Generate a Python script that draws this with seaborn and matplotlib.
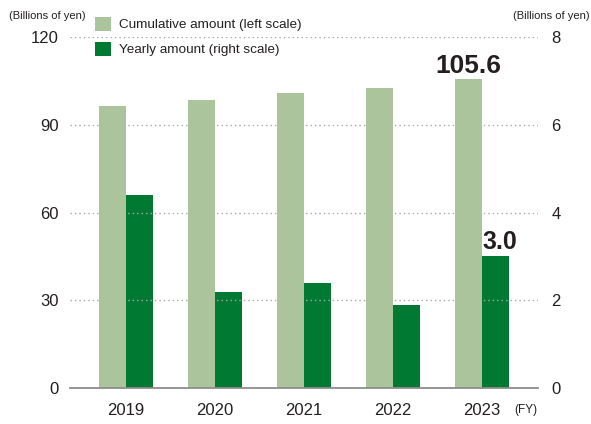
import matplotlib
matplotlib.use("Agg")
import matplotlib.pyplot as plt
from matplotlib.patches import Patch
import seaborn as sns
import pandas as pd

years = ["2019", "2020", "2021", "2022", "2023"]
cumulative = [96.3, 98.6, 100.9, 102.6, 105.6]   # billions of yen, left scale
yearly = [4.4, 2.2, 2.4, 1.9, 3.0]               # billions of yen, right scale
left_ticks = [0, 30, 60, 90, 120]
right_ticks = [0, 2, 4, 6, 8]
series_names = ["Cumulative amount (left scale)", "Yearly amount (right scale)"]

LIGHT = "#ABC49C"
DARK = "#007A33"
TEXT = "#231F20"

sns.set_theme(style="white")
plt.rcParams["font.family"] = ["Liberation Sans", "DejaVu Sans"]

df_cum = pd.DataFrame({"year": years, "value": cumulative, "series": series_names[0]})
df_year = pd.DataFrame({"year": years, "value": yearly, "series": series_names[1]})

W, H = 591, 424
fig = plt.figure(figsize=(W / 100, H / 100), dpi=100)
ax1 = fig.add_axes([70 / W, 36 / H, 468 / W, 350.8 / H])
ax2 = ax1.twinx()

palette = {series_names[0]: LIGHT, series_names[1]: DARK}
sns.barplot(data=df_cum, x="year", y="value", hue="series", hue_order=series_names,
            palette=palette, width=0.6, dodge=True, saturation=1, linewidth=0,
            ax=ax1, legend=False)
sns.barplot(data=df_year, x="year", y="value", hue="series", hue_order=series_names,
            palette=palette, width=0.6, dodge=True, saturation=1, linewidth=0,
            ax=ax2, legend=False)

ax1.set_xlim(-0.63, 4.63)
ax1.set_ylim(0, 120)
ax2.set_ylim(0, 8)
ax1.set_yticks(left_ticks)
ax2.set_yticks(right_ticks)
ax1.set_xlabel("")
ax1.set_ylabel("")
ax2.set_ylabel("")

for a in (ax1, ax2):
    for s in a.spines.values():
        s.set_visible(False)
ax1.spines["bottom"].set_visible(True)
ax1.spines["bottom"].set_color("#8C8C8C")
ax1.spines["bottom"].set_linewidth(1.3)
ax1.set_zorder(ax2.get_zorder() + 1)
ax1.patch.set_visible(False)

# dotted gridlines (none at zero, the baseline is the axis line)
for v in left_ticks[1:]:
    ax1.axhline(v, color="#A8A8A8", lw=1.0, ls=(0, (1, 2.2)), zorder=0)

ax1.tick_params(axis="y", length=0, pad=8, labelsize=12, labelcolor=TEXT)
ax2.tick_params(axis="y", length=0, pad=9.5, labelsize=12, labelcolor=TEXT)
ax1.tick_params(axis="x", length=0, pad=11, labelsize=12, labelcolor=TEXT)

# value labels on the 2023 bars
for p in ax1.patches:
    if p.get_height() == cumulative[-1]:
        ax1.text(p.get_x() + p.get_width() / 2, p.get_height() + 2.05, f"{cumulative[-1]:.1f}",
                 ha="center", va="baseline", fontsize=19, fontweight="bold", color=TEXT)
for p in ax2.patches:
    if p.get_height() == yearly[-1]:
        ax2.text(p.get_x() + p.get_width() / 2 + 0.055, p.get_height() + 0.16, f"{yearly[-1]:.1f}",
                 ha="center", va="baseline", fontsize=18, fontweight="bold", color=TEXT)

fig.text(9 / W, 1 - 16 / H, "(Billions of yen)", ha="left", va="center",
         fontsize=8, color=TEXT)
fig.text(590 / W, 1 - 16 / H, "(Billions of yen)", ha="right", va="center",
         fontsize=8, color=TEXT)
fig.text(526 / W, 1 - 410 / H, "(FY)", ha="center", va="center",
         fontsize=8.5, color=TEXT)

handles = [Patch(facecolor=LIGHT, edgecolor="none"), Patch(facecolor=DARK, edgecolor="none")]
fig.legend(handles, series_names, loc="upper left", bbox_to_anchor=(95 / W, 1 - 17 / H),
           frameon=False, fontsize=9.7, handlelength=1.2, handleheight=1.2,
           handletextpad=0.6, labelspacing=0.78, labelcolor=TEXT,
           borderpad=0, borderaxespad=0)

fig.savefig("out.png", dpi=100)
